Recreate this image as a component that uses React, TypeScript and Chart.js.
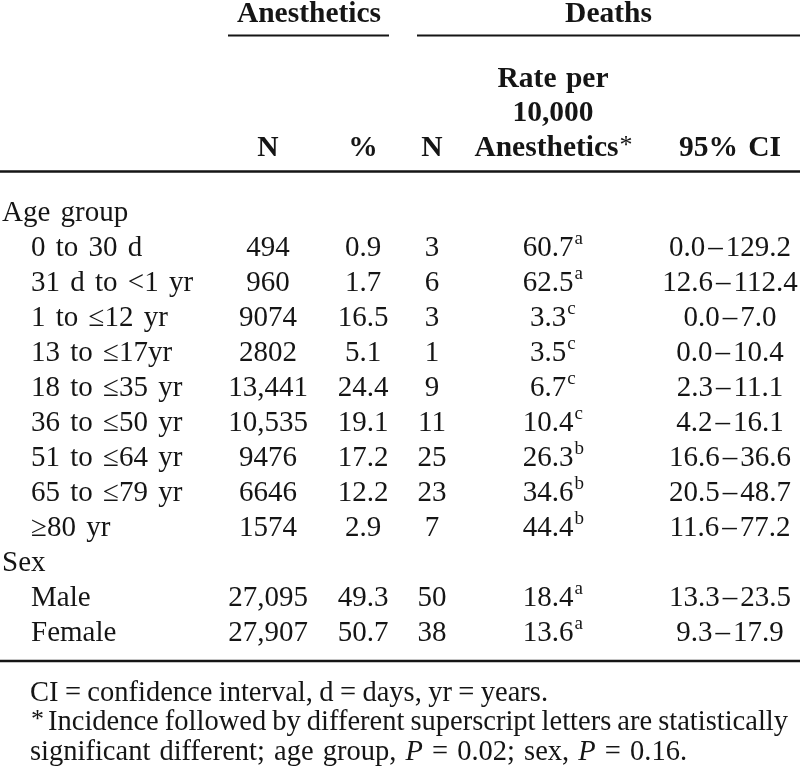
import React, { useEffect, useRef } from 'react';
import { Chart, registerables } from 'chart.js';

Chart.register(...registerables);

// ---------- data ----------
const rowLabels = [
  'Age group',
  '0 to 30 d',
  '31 d to <1 yr',
  '1 to \u226412 yr',
  '13 to \u226417yr',
  '18 to \u226435 yr',
  '36 to \u226450 yr',
  '51 to \u226464 yr',
  '65 to \u226479 yr',
  '\u226580 yr',
  'Sex',
  'Male',
  'Female',
];
const anestheticsN = [null, 494, 960, 9074, 2802, 13441, 10535, 9476, 6646, 1574, null, 27095, 27907];
const anestheticsPct = [null, 0.9, 1.7, 16.5, 5.1, 24.4, 19.1, 17.2, 12.2, 2.9, null, 49.3, 50.7];
const deathsN = [null, 3, 6, 3, 1, 9, 11, 25, 23, 7, null, 50, 38];
const ratePer10k = [null, 60.7, 62.5, 3.3, 3.5, 6.7, 10.4, 26.3, 34.6, 44.4, null, 18.4, 13.6];
const rateSup = [null, 'a', 'a', 'c', 'c', 'c', 'c', 'b', 'b', 'b', null, 'a', 'a'];
const ciLow = [null, 0.0, 12.6, 0.0, 0.0, 2.3, 4.2, 16.6, 20.5, 11.6, null, 13.3, 9.3];
const ciHigh = [null, 129.2, 112.4, 7.0, 10.4, 11.1, 16.1, 36.6, 48.7, 77.2, null, 23.5, 17.9];

const groupHeaders = ['Anesthetics', 'Deaths'];
const columnHeaders = ['N', '%', 'N', '95% CI'];
const rateHeaderLines = ['Rate per', '10,000', 'Anesthetics'];
const footnoteLine1 = [{ t: 'CI = confidence interval, d = days, yr = years.', i: false }];
const footnoteLine2 = [{ t: 'Incidence followed by different superscript letters are statistically', i: false }];
const footnoteLine3 = [
  { t: 'significant different; age group, ', i: false },
  { t: 'P', i: true },
  { t: ' = 0.02; sex, ', i: false },
  { t: 'P', i: true },
  { t: ' = 0.16.', i: false },
];

// ---------- layout (not data) ----------
const FONT = '"Liberation Serif", "Times New Roman", serif';
const INK = '#151515';
const BODY = 29;
const L = {
  labelX: 2,
  indentX: 31,
  nX: 268,
  pctX: 363,
  dnX: 432,
  rateX: 548,
  rateHeadX: 553,
  ciX: 730,
  ciGap: 3,
  groupSpans: [
    { x0: 228, x1: 389, cx: 309 },
    { x0: 417, x1: 800, cx: 608.5 },
  ],
  groupBase: 22,
  groupRuleY: 35.5,
  headBases: [87, 121, 156],
  headRuleY: 171.5,
  bottomRuleY: 661,
  footBases: [700.5, 730, 759.5],
  footStarts: [30, 48, 30],
  footEnds: [548, 788, 687],
  capOffset: 9.6,
};

const fmtN = (n: number) => (n >= 10000 ? n.toLocaleString('en-US') : String(n));
const fmt1 = (v: number) => v.toFixed(1);

function drawSpaced(
  ctx: CanvasRenderingContext2D,
  text: string,
  x: number,
  y: number,
  align: 'left' | 'center' | 'right',
  extra: number
) {
  const spaces = text.split(' ').length - 1;
  const w = ctx.measureText(text).width + spaces * extra;
  let sx = align === 'center' ? x - w / 2 : align === 'right' ? x - w : x;
  ctx.textAlign = 'left';
  const parts = text.split(' ');
  const sp = ctx.measureText(' ').width + extra;
  parts.forEach((p) => {
    ctx.fillText(p, sx, y);
    sx += ctx.measureText(p).width + sp;
  });
}

// draw a line of mixed-style segments, stretching spaces so it ends at x1
function drawJustified(
  ctx: CanvasRenderingContext2D,
  segs: { t: string; i: boolean }[],
  x0: number,
  x1: number,
  y: number,
  size: number
) {
  const tokens: { w: string; i: boolean; space: boolean }[] = [];
  segs.forEach((s) => {
    s.t.split(/( )/).forEach((p) => {
      if (p === '') return;
      tokens.push({ w: p, i: s.i, space: p === ' ' });
    });
  });
  let natural = 0;
  let nSpaces = 0;
  tokens.forEach((tk) => {
    ctx.font = `${tk.i ? 'italic ' : ''}${size}px ${FONT}`;
    natural += ctx.measureText(tk.w).width;
    if (tk.space) nSpaces++;
  });
  const extra = nSpaces ? (x1 - x0 - natural) / nSpaces : 0;
  let x = x0;
  ctx.textAlign = 'left';
  tokens.forEach((tk) => {
    ctx.font = `${tk.i ? 'italic ' : ''}${size}px ${FONT}`;
    const w = ctx.measureText(tk.w).width;
    if (tk.space) {
      x += w + extra;
    } else {
      ctx.fillText(tk.w, x, y);
      x += w;
    }
  });
}

const tablePlugin = {
  id: 'tablePlugin',
  beforeDraw(chart: any) {
    const ctx = chart.ctx as CanvasRenderingContext2D;
    ctx.save();
    ctx.fillStyle = '#ffffff';
    ctx.fillRect(0, 0, chart.width, chart.height);
    ctx.restore();
  },
  afterDraw(chart: any) {
    const ctx = chart.ctx as CanvasRenderingContext2D;
    const xs = chart.scales.x;
    const ys = chart.scales.y;
    const X = (v: number) => xs.getPixelForValue(v);
    ctx.save();
    ctx.fillStyle = INK;
    ctx.strokeStyle = INK;
    ctx.textBaseline = 'alphabetic';

    // group headers
    ctx.font = `bold 29.5px ${FONT}`;
    groupHeaders.forEach((g, i) => {
      const s = L.groupSpans[i];
      drawSpaced(ctx, g, X(s.cx), L.groupBase, 'center', 3);
      ctx.lineWidth = 2;
      ctx.beginPath();
      ctx.moveTo(X(s.x0), L.groupRuleY);
      ctx.lineTo(X(s.x1), L.groupRuleY);
      ctx.stroke();
    });

    // column headers
    const hb = L.headBases[2];
    ctx.font = `bold 29.5px ${FONT}`;
    drawSpaced(ctx, columnHeaders[0], X(L.nX), hb, 'center', 3);
    drawSpaced(ctx, columnHeaders[1], X(L.pctX), hb, 'center', 3);
    drawSpaced(ctx, columnHeaders[2], X(L.dnX), hb, 'center', 3);
    drawSpaced(ctx, columnHeaders[3], X(L.ciX), hb, 'center', 3);
    rateHeaderLines.forEach((t, i) => {
      ctx.font = `bold 29.5px ${FONT}`;
      if (i < rateHeaderLines.length - 1) {
        drawSpaced(ctx, t, X(L.rateHeadX), L.headBases[i], 'center', 2);
      } else {
        const w = ctx.measureText(t).width;
        ctx.font = `26px ${FONT}`;
        const aw = ctx.measureText('*').width;
        const sx = X(L.rateHeadX) - (w + aw) / 2;
        ctx.font = `bold 29.5px ${FONT}`;
        ctx.textAlign = 'left';
        ctx.fillText(t, sx, L.headBases[i]);
        ctx.font = `26px ${FONT}`;
        ctx.fillText('*', sx + w + 1, L.headBases[i] - 3.5);
      }
    });

    // rules
    ctx.lineWidth = 2.5;
    ctx.beginPath();
    ctx.moveTo(X(0), L.headRuleY);
    ctx.lineTo(X(800), L.headRuleY);
    ctx.moveTo(X(0), L.bottomRuleY);
    ctx.lineTo(X(800), L.bottomRuleY);
    ctx.stroke();

    // body rows
    rowLabels.forEach((label, i) => {
      const y = ys.getPixelForValue(i) + L.capOffset;
      const isGroup = anestheticsN[i] === null;
      ctx.font = `${BODY}px ${FONT}`;
      drawSpaced(ctx, label, X(isGroup ? L.labelX : L.indentX), y, 'left', 3);
      if (isGroup) return;
      drawSpaced(ctx, fmtN(anestheticsN[i] as number), X(L.nX), y, 'center', 0);
      drawSpaced(ctx, fmt1(anestheticsPct[i] as number), X(L.pctX), y, 'center', 0);
      drawSpaced(ctx, String(deathsN[i]), X(L.dnX), y, 'center', 0);
      // rate + superscript letter
      const rt = fmt1(ratePer10k[i] as number);
      const rw = ctx.measureText(rt).width;
      ctx.textAlign = 'left';
      ctx.fillText(rt, X(L.rateX) - rw / 2, y);
      ctx.font = `19px ${FONT}`;
      ctx.fillText(rateSup[i] as string, X(L.rateX) + rw / 2 + 1, y - 11.7);
      // CI low – high
      ctx.font = `${BODY}px ${FONT}`;
      const lo = fmt1(ciLow[i] as number);
      const hi = fmt1(ciHigh[i] as number);
      const wl = ctx.measureText(lo).width;
      const wd = ctx.measureText('\u2013').width;
      const wh = ctx.measureText(hi).width;
      const tot = wl + wd + wh + 2 * L.ciGap;
      let cx = X(L.ciX) - tot / 2;
      ctx.fillText(lo, cx, y);
      cx += wl + L.ciGap;
      ctx.fillText('\u2013', cx, y);
      cx += wd + L.ciGap;
      ctx.fillText(hi, cx, y);
    });

    // footnotes
    drawJustified(ctx, footnoteLine1, X(L.footStarts[0]), X(L.footEnds[0]), L.footBases[0], 28.5);
    ctx.font = `26px ${FONT}`;
    ctx.textAlign = 'left';
    ctx.fillText('*', X(L.footStarts[0]) + 1, L.footBases[1] - 3);
    drawJustified(ctx, footnoteLine2, X(L.footStarts[1]), X(L.footEnds[1]), L.footBases[1], 28.5);
    drawJustified(ctx, footnoteLine3, X(L.footStarts[2]), X(L.footEnds[2]), L.footBases[2], 28.5);

    ctx.restore();
  },
};

export default function App() {
  const ref = useRef<HTMLCanvasElement>(null);
  useEffect(() => {
    document.body.style.margin = '0';
    const canvas = ref.current;
    if (!canvas) return;
    const chart = new Chart(canvas, {
      type: 'scatter',
      data: { datasets: [] },
      options: {
        animation: false,
        responsive: false,
        devicePixelRatio: 1,
        layout: { padding: { top: 194, bottom: 122, left: 0, right: 0 } },
        scales: {
          x: { type: 'linear', min: 0, max: 800, display: false },
          y: { type: 'linear', min: -0.5, max: rowLabels.length - 0.5, reverse: true, display: false },
        },
        plugins: {
          legend: { display: false },
          tooltip: { enabled: false },
          title: { display: false },
        },
      },
      plugins: [tablePlugin],
    } as any);
    return () => chart.destroy();
  }, []);
  return (
    <div style={{ position: 'absolute', left: 0, top: 0, width: 800, height: 771, background: '#fff' }}>
      <canvas ref={ref} width={800} height={771} style={{ display: 'block', width: 800, height: 771 }} />
    </div>
  );
}
